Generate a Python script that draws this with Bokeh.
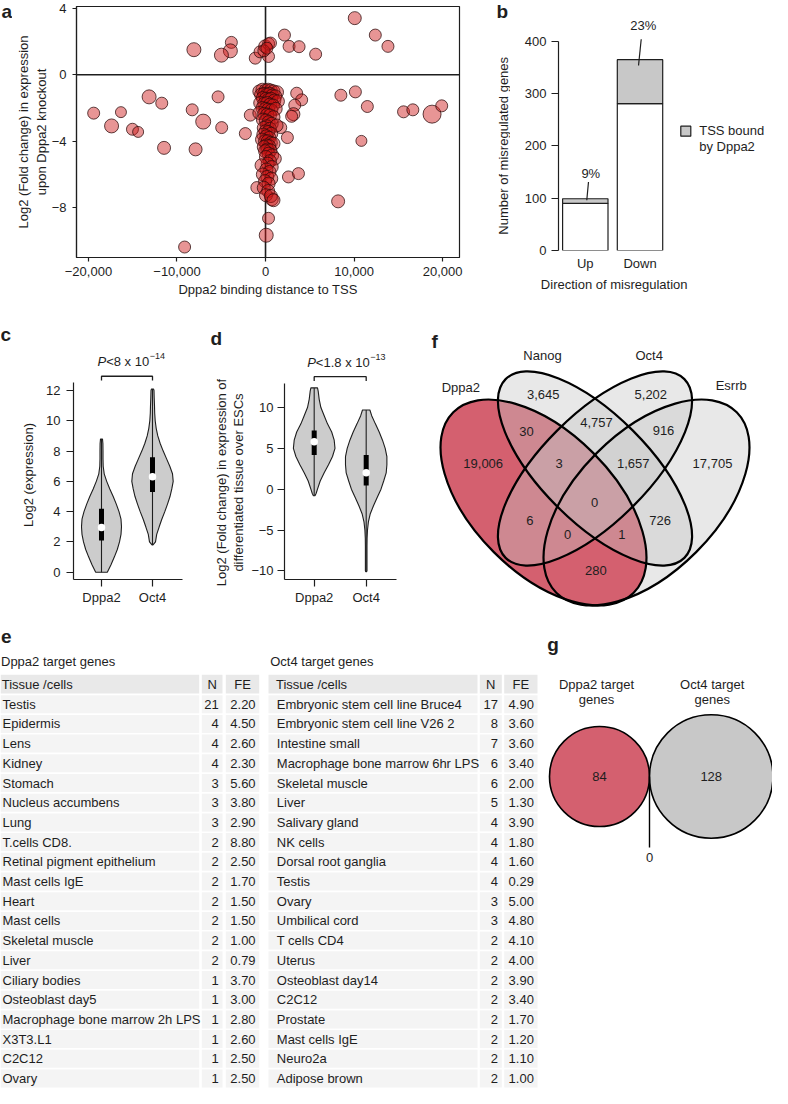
import math
from bokeh.plotting import figure
from bokeh.models import Range1d, FixedTicker, Span
from bokeh.layouts import row, column
from bokeh.embed import file_html
from bokeh.resources import INLINE
from bokeh.core.properties import value

FONT = "Liberation Sans"
INK = "#1e1e1e"
RED = "#d4606f"
GREY = "#c8c8c8"
VIOLIN = "#cccccc"

# ---------------- panel a data ----------------
a_up_dist = [10080, 12400, 13830, 2140, 2660, 3790, 5660, -8090, -3860, -3970, -4980, -1160, -620, -40, 350, 560, 340, -190, 150]
a_up_lfc = [3.41, 2.39, 1.71, 2.39, 1.71, 1.69, 1.24, 1.51, 1.95, 1.44, 1.18, 1.00, 1.38, 1.71, 1.87, 1.91, 1.10, 1.44, 1.60]
a_up_size = [13, 12, 12, 12, 12, 12, 12, 14, 12, 14, 14, 12, 12, 13, 12, 12, 12, 12, 12]

a_far_dist = [-19410, -17390, -16330, -15030, -14390, -13150, -11720, -11460, -8280, -7040, -7900, -5360, -4950, -2280, -1720, -9140,
              3520, 4080, 3300, 3150, 2950, 1720, 2470, 2590, 3720, 8510, 10150, 11500, 10830, 8200, 15590, 16640, 18810, 19900,
              80, 340, 710, -980]
a_far_lfc = [-2.31, -3.08, -2.25, -3.28, -3.44, -1.33, -1.71, -4.40, -2.11, -2.82, -4.49, -1.33, -3.18, -3.54, -2.43, -10.37,
             -1.11, -1.51, -1.83, -2.37, -2.50, -3.18, -3.78, -6.15, -5.95, -1.23, -1.03, -1.91, -3.98, -7.62, -2.23, -2.11, -2.37, -1.87,
             -9.66, -8.64, -7.49, -6.79]
a_far_size = [12, 14, 11, 12, 11, 14, 12, 13, 12, 15, 13, 12, 12, 12, 12, 12,
              12, 12, 12, 13, 12, 12, 12, 12, 12, 12, 12, 12, 11, 13, 12, 12, 18, 12,
              14, 12, 13, 12]

a_core_dist = [-700, -350, 0, 300, 600, 900, 1300, -500, -150, 150, 450, 750, 1100, -300, 50, 350, 650, 1000, 1400,
               -600, -150, 200, 500, 850, -350, 0, 300, 650, 1150, -700, -150, 200, 500, 900,
               -300, 50, 350, 700, 150, -200, 500, 1250,
               0, 300, 650, -250, 100, 450, -400, -50, 250, 600, 900, 100, 400, -200, 200, 550, -50,
               350, 750, 50, 1050, 500, 250, -450, 700, 100, 450, -300, 200, 650, -50, 350, -200, 300, 50, 600, 900]
a_core_lfc = [-1.0, -0.9, -0.95, -0.9, -0.95, -1.0, -1.05, -1.2, -1.15, -1.2, -1.15, -1.25, -1.3, -1.4, -1.45, -1.5, -1.45, -1.55, -1.6,
              -1.7, -1.75, -1.7, -1.8, -1.85, -2.0, -2.05, -2.1, -2.15, -2.05, -2.3, -2.35, -2.4, -2.45, -2.55,
              -2.7, -2.75, -2.85, -2.95, -3.1, -3.2, -3.25, -3.05,
              -3.4, -3.45, -3.55, -3.6, -3.7, -3.8, -3.9, -4.0, -4.0, -4.1, -4.15, -4.25, -4.3, -4.35, -4.5, -4.55, -4.6,
              -4.75, -4.85, -4.95, -5.05, -5.2, -5.35, -5.45, -5.55, -5.7, -5.85, -6.0, -6.15, -6.25, -6.4, -6.55, -6.8, -7.0, -7.25, -7.3, -7.55]
a_core_size = 13

a_xticks = [-20000, -10000, 0, 10000, 20000]
a_xlabels = ["\u221220,000", "\u221210,000", "0", "10,000", "20,000"]
a_yticks = [4, 0, -4, -8]
a_ylabels = ["4", "0", "\u22124", "\u22128"]

# ---------------- panel b data ----------------
direction = ["Up", "Down"]
not_bound = [90, 281]
tss_bound = [9, 84]
b_yticks = [0, 100, 200, 300, 400]

# ---------------- panel c / d data ----------------
cd_groups = ["Dppa2", "Oct4"]
c_dppa2_y = [0, 0.5, 1, 1.5, 2, 2.5, 3, 3.5, 4, 4.5, 5, 5.5, 6, 6.5, 7, 7.5, 8, 8.5, 8.8]
c_dppa2_w = [5.8, 9.5, 12.8, 15.8, 18, 19.5, 20, 19.5, 17.5, 14.8, 11.7, 8.3, 5.2, 2.7, 1.7, 1.5, 1.5, 1.4, 1.0]
c_oct4_y = [1.8, 2, 2.5, 3, 3.5, 4, 4.5, 5, 5.5, 6, 6.5, 7, 7.5, 8, 8.5, 9, 9.5, 10, 10.5, 11, 11.5, 12, 12.1]
c_oct4_w = [0.5, 3, 4.2, 6.7, 9.3, 12.3, 15, 17.5, 19.3, 20.7, 20, 17.3, 14, 10.7, 7.7, 5.3, 3.7, 2.7, 2.2, 2, 1.7, 1.5, 1.0]
c_box = [(2.1, 4.2, 2.95, 0.0, 8.8), (5.3, 7.6, 6.3, 1.8, 12.1)]   # q1, q3, median, min, max
c_pvalue = ("8 x 10", "\u221214")

d_dppa2_y = [-0.8, -0.5, 0, 1, 2, 3, 4, 5, 6, 7, 8, 9, 10, 11, 12, 12.4]
d_dppa2_w = [0.8, 2, 3.3, 6, 10, 14.3, 18.3, 20.8, 20, 17.5, 13.3, 10, 6.7, 5, 4, 3.3]
d_oct4_y = [-10.1, -10, -9, -8, -7, -6, -5, -4, -3, -2, -1, 0, 1, 2, 3, 4, 5, 6, 7, 8, 9, 9.7]
d_oct4_w = [0.5, 0.8, 0.8, 0.8, 0.8, 0.9, 1.3, 2.2, 4.1, 7.4, 11.1, 14.8, 17.5, 20, 20.7, 20.7, 19, 16.3, 13, 9.2, 5.5, 3.7]
d_box = [(4.2, 7.2, 5.8, -0.8, 12.4), (0.45, 4.2, 2.0, -10.1, 9.7)]
d_pvalue = ("1.8 x 10", "\u221213")

# ---------------- panel e data ----------------
tissue_dppa2 = ["Testis", "Epidermis", "Lens", "Kidney", "Stomach", "Nucleus accumbens", "Lung", "T.cells CD8.",
                "Retinal pigment epithelium", "Mast cells IgE", "Heart", "Mast cells", "Skeletal muscle", "Liver",
                "Ciliary bodies", "Osteoblast day5", "Macrophage bone marrow 2h LPS", "X3T3.L1", "C2C12", "Ovary"]
n_dppa2 = [21, 4, 4, 4, 3, 3, 3, 2, 2, 2, 2, 2, 2, 2, 1, 1, 1, 1, 1, 1]
fe_dppa2 = [2.20, 4.50, 2.60, 2.30, 5.60, 3.80, 2.90, 8.80, 2.50, 1.70, 1.50, 1.50, 1.00, 0.79, 3.70, 3.00, 2.80, 2.60, 2.50, 2.50]
tissue_oct4 = ["Embryonic stem cell line Bruce4", "Embryonic stem cell line V26 2", "Intestine small",
               "Macrophage bone marrow 6hr LPS", "Skeletal muscle", "Liver", "Salivary gland", "NK cells",
               "Dorsal root ganglia", "Testis", "Ovary", "Umbilical cord", "T cells CD4", "Uterus", "Osteoblast day14",
               "C2C12", "Prostate", "Mast cells IgE", "Neuro2a", "Adipose brown"]
n_oct4 = [17, 8, 7, 6, 6, 5, 4, 4, 4, 4, 3, 3, 2, 2, 2, 2, 2, 2, 2, 2]
fe_oct4 = [4.90, 3.60, 3.60, 3.40, 2.00, 1.30, 3.90, 1.80, 1.60, 0.29, 5.00, 4.80, 4.10, 4.00, 3.90, 3.40, 1.70, 1.20, 1.10, 1.00]

# ---------------- panel f data ----------------
venn_sets = ["Dppa2", "Nanog", "Oct4", "Esrrb"]
venn_counts = [19006, 3645, 5202, 17705, 30, 4757, 916, 3, 1657, 0, 6, 726, 0, 1, 280]

# ---------------- panel g data ----------------
g_sets = [("Dppa2 target", "genes"), ("Oct4 target", "genes")]
g_counts = [84, 128]
g_overlap = 0


# ================= helpers =================
def make_fig(w, h, l, r, t, b, xr, yr, axes=True):
    kw = dict(width=w, height=h, x_range=Range1d(*xr), y_range=Range1d(*yr),
              output_backend="svg", toolbar_location=None,
              min_border_left=l, min_border_right=r, min_border_top=t, min_border_bottom=b)
    if not axes:
        kw.update(x_axis_location=None, y_axis_location=None)
    p = figure(**kw)
    p.grid.visible = False
    p.outline_line_color = None
    p.background_fill_color = "white"
    p.border_fill_color = "white"
    if "frame_align" in p.properties():
        p.frame_align = False
    return p


def text_fig(w, h):
    """Blank figure whose frame is its whole canvas, in pixel units (y = 0 at top edge, negative downwards)."""
    return make_fig(w, h, 0, 0, 0, 0, (0, w), (-h, 0), axes=False)


def style_axis(ax, tick_out=5, standoff=5, title=None, title_standoff=5):
    ax.axis_line_color = INK
    ax.axis_line_width = 1.2
    ax.major_tick_line_color = INK
    ax.major_tick_line_width = 1.2
    ax.minor_tick_line_color = None
    ax.major_tick_in = 0
    ax.major_tick_out = tick_out
    ax.major_label_standoff = standoff
    ax.major_label_text_font = FONT
    ax.major_label_text_font_size = "13px"
    ax.major_label_text_color = INK
    ax.axis_label = title
    ax.axis_label_standoff = title_standoff
    ax.axis_label_text_font = FONT
    ax.axis_label_text_font_size = "13px"
    ax.axis_label_text_font_style = "normal"
    ax.axis_label_text_color = INK


def txt(p, x, y, t, size=13, align="center", baseline="middle", style="normal", color=INK, xo=0, yo=0, angle=0.0):
    p.text(x=x, y=y, text=t, text_font=value(FONT), text_font_size=f"{size}px", text_align=align,
           text_baseline=baseline, text_font_style=style, text_color=color, x_offset=xo, y_offset=yo,
           angle=angle)


def letter(p, x, y, s):
    txt(p, [x], [y], [s], size=19, style="bold", align="left", baseline="top")


ARIAL_W = {'P': 667, '<': 584, ' ': 278, 'x': 500, '.': 278, '\u2212': 584}


def tw(s, size):
    return sum(ARIAL_W.get(c, 556) for c in s) * size / 1000.0


VERT = math.pi / 2

# ================= panel a =================
fa_letter = text_fig(12, 302)
letter(fa_letter, 1, 0, "a")

pa = make_fig(458, 302, 62, 11, 6, 45, (-21350, 21910), (-11.0, 4.11))
pa.outline_line_color = INK
pa.outline_line_width = 1.2
pa.add_layout(Span(location=0, dimension="height", line_color=INK, line_width=1.6, level="underlay"))
pa.add_layout(Span(location=0, dimension="width", line_color=INK, line_width=1.6, level="underlay"))
ax_x = a_up_dist + a_far_dist + a_core_dist
ax_y = a_up_lfc + a_far_lfc + a_core_lfc
ax_s = a_up_size + a_far_size + [a_core_size] * len(a_core_dist)
pa.scatter(x=ax_x, y=ax_y, size=ax_s, marker="circle", fill_color="#cc1414", fill_alpha=0.45,
           line_color="#2b0b0b", line_alpha=0.75, line_width=1)
style_axis(pa.xaxis[0], tick_out=4, standoff=5, title="Dppa2 binding distance to TSS", title_standoff=3)
style_axis(pa.yaxis[0], tick_out=4, standoff=6,
           title="Log2 (Fold change) in expression\nupon Dppa2 knockout", title_standoff=0)
pa.xaxis.ticker = FixedTicker(ticks=a_xticks)
pa.xaxis.major_label_overrides = {t: s for t, s in zip(a_xticks, a_xlabels)}
pa.yaxis.ticker = FixedTicker(ticks=a_yticks)
pa.yaxis.major_label_overrides = {t: s for t, s in zip(a_yticks, a_ylabels)}

# ================= panel b =================
fb_left = text_fig(40, 302)
letter(fb_left, 26, 0, "b")
txt(fb_left, [32.7], [-145.3], ["Number of misregulated genes"], angle=VERT)

pb = make_fig(160, 273, 48, 0, 18, 22, (0.51, 0.51 + 112 / 54.7), (0, 443.8))
bx = [1, 2]
totals = [a + b for a, b in zip(not_bound, tss_bound)]
pb.vbar(x=bx, width=0.83, bottom=0, top=not_bound, fill_color="white", line_color=INK, line_width=1.2)
pb.vbar(x=bx, width=0.83, bottom=not_bound, top=totals, fill_color=GREY, line_color=INK, line_width=1.2)
style_axis(pb.yaxis[0], tick_out=7, standoff=5)
pb.yaxis.ticker = FixedTicker(ticks=b_yticks)
pb.yaxis.bounds = (0, 400)
style_axis(pb.xaxis[0], tick_out=0, standoff=5)
pb.xaxis.axis_line_color = None
pb.xaxis.major_tick_line_color = None
pb.xaxis.ticker = FixedTicker(ticks=bx)
pb.xaxis.major_label_overrides = {1: direction[0], 2: direction[1]}
pct = [f"{round(100 * b / t)}%" for b, t in zip(tss_bound, totals)]
pct_dx = [0.10, 0.058]
pct_lift = [48, 65]
lead_dx = [(0.027, 0.058), (-0.027, 0.022)]
lead_dy = [(-3, 32), (-11, 39)]
for i in range(2):
    txt(pb, [bx[i] + pct_dx[i]], [totals[i] + pct_lift[i]], [pct[i]])
    pb.line([bx[i] + lead_dx[i][0], bx[i] + lead_dx[i][1]],
            [totals[i] + lead_dy[i][0], totals[i] + lead_dy[i][1]], line_color=INK, line_width=1.2)

pleg = make_fig(102, 273, 0, 0, 0, 0, (678, 780), (-281, -8), axes=False)
pleg.scatter([693.3], [-138.7], marker="square", size=10, fill_color=GREY, line_color=INK, line_width=1.2)
txt(pleg, [706.7], [-138.3], ["TSS bound"], align="left")
txt(pleg, [706.7], [-154.0], ["by Dppa2"], align="left")

fb_xtitle = text_fig(262, 29)
txt(fb_xtitle, [103.7], [-10.5], ["Direction of misregulation"])


# ================= panels c, d =================
def violins(p, spacing, shapes, boxes):
    for i, ((ys, ws), box) in enumerate(zip(shapes, boxes)):
        cx = i + 1
        hw = [w / spacing for w in ws]
        xs = [cx - h for h in hw] + [cx + h for h in reversed(hw)]
        yy = list(ys) + list(reversed(ys))
        p.patch(xs, yy, fill_color=VIOLIN, line_color=INK, line_width=1.1)
        q1, q3, med, lo, hi = box
        p.segment(x0=[cx], y0=[lo], x1=[cx], y1=[hi], line_color=INK, line_width=1.1)
        p.segment(x0=[cx], y0=[q1], x1=[cx], y1=[q3], line_color="black", line_width=5)
        p.scatter([cx], [med], size=7.5, fill_color="white", line_color=None)


def pvalue(p, y_text, y_br, y_leg, mant, expo, left_off):
    p.line([1, 1, 2, 2], [y_leg, y_br, y_br, y_leg], line_color=INK, line_width=1.3)
    wP = tw("P", 13)
    wm = tw("<" + mant, 13)
    txt(p, [1], [y_text], ["P"], align="left", style="italic", xo=left_off)
    txt(p, [1], [y_text], ["<" + mant], align="left", xo=left_off + wP)
    txt(p, [1], [y_text], [expo], size=9, align="left", xo=left_off + wP + wm + 0.5, yo=-5)


def cat_axes(p, yt, ylabels, bounds, ystand):
    style_axis(p.xaxis[0], tick_out=7, standoff=3)
    style_axis(p.yaxis[0], tick_out=7, standoff=ystand)
    p.xaxis.ticker = FixedTicker(ticks=[1, 2])
    p.xaxis.major_label_overrides = {1: cd_groups[0], 2: cd_groups[1]}
    p.yaxis.ticker = FixedTicker(ticks=yt)
    p.yaxis.major_label_overrides = {t: s for t, s in zip(yt, ylabels)}
    p.yaxis.bounds = bounds


fc_left = text_fig(40, 325)
letter(fc_left, 0, -21.4, "c")
txt(fc_left, [28.3], [-172.5], ["Log2 (expression)"], angle=VERT)

pc = make_fig(160, 325, 33, 18, 45, 48, (0.451, 0.451 + 109 / 51.0), (-0.48, 14.84))
violins(pc, 51.0, [(c_dppa2_y, c_dppa2_w), (c_oct4_y, c_oct4_w)], c_box)
pvalue(pc, 13.94, 12.94, 12.66, c_pvalue[0], c_pvalue[1], -4)
c_yt = [0, 2, 4, 6, 8, 10, 12]
cat_axes(pc, c_yt, [str(t) for t in c_yt], (-0.48, 12.5), 6)

fd_left = text_fig(48, 325)
letter(fd_left, 10, -25.5, "d")
txt(fd_left, [21.4, 38.0], [-180.0, -180.0],
    ["Log2 (Fold change) in expression of", "differentiated tissue over ESCs"], angle=VERT)

pd_ = make_fig(162, 325, 36, 14, 45, 48, (0.429, 0.429 + 112 / 52.0), (-11.06, 17.35))
violins(pd_, 52.0, [(d_dppa2_y, d_dppa2_w), (d_oct4_y, d_oct4_w)], d_box)
pvalue(pd_, 15.56, 13.78, 13.26, d_pvalue[0], d_pvalue[1], -7)
d_yt = [-10, -5, 0, 5, 10]
cat_axes(pd_, d_yt, ["\u221210", "\u22125", "0", "5", "10"], (-11.06, 13.0), 4)

# ================= panel f (Venn) =================
pf = make_fig(362, 325, 0, 0, 0, 0, (418, 780), (-635, -310), axes=False)
AX = 602.5
ell = {
    "Dppa2": (551.0, 510.0, 255.2, 140.4, -1),
    "Nanog": (AX, 476.0, 252.8, 107.2, -1),
    "Oct4": (AX, 476.0, 252.8, 107.2, 1),
    "Esrrb": (2 * AX - 551.0, 510.0, 255.2, 140.4, 1),
}
fills = {"Esrrb": ("#e8e8e8", 1.0), "Dppa2": (RED, 1.0), "Nanog": ("#c5c5c5", 0.4), "Oct4": ("#c5c5c5", 0.4)}
for name in ["Esrrb", "Dppa2", "Nanog", "Oct4"]:
    cx, cy, wa, hb, s = ell[name]
    col, al = fills[name]
    pf.ellipse(x=[cx], y=[-cy], width=wa, height=hb, angle=s * math.pi / 4,
               fill_color=col, fill_alpha=al, line_color=None)
for name in venn_sets:
    cx, cy, wa, hb, s = ell[name]
    pf.ellipse(x=[cx], y=[-cy], width=wa, height=hb, angle=s * math.pi / 4,
               fill_color=None, line_color="black", line_width=2.2)
set_pos = [(468.3, 395), (550, 363.3), (656.7, 363.3), (738.7, 393.3)]
txt(pf, [q[0] for q in set_pos], [-q[1] for q in set_pos], venn_sets)
region_pos = [(490.7, 470.7), (550.7, 401.7), (658.3, 401.7), (720, 470.7), (534, 439), (604, 430),
              (671, 438.3), (566.7, 470.7), (640.7, 470.7), (602, 510), (537.3, 528.3), (667.7, 528.3),
              (575, 542.3), (629.3, 542.3), (603.3, 578.3)]
txt(pf, [q[0] for q in region_pos], [-q[1] for q in region_pos], [f"{v:,}" for v in venn_counts])
letter(pf, 439, -338.5, "f")

# ================= panel e (tables) =================
pe = make_fig(540, 461, 0, 0, 0, 0, (8, 548), (-1096, -635), axes=False)
ROW_H = 19.7
HDR_Y = 691.7
ROW0_Y = 711.7


def table(p, x_cols, tissues, ns, fes, title, title_x):
    (t0, t1), (n0, n1), (f0, f1) = x_cols
    txt(p, [title_x], [-669.3], [title], align="left")
    p.quad(left=[max(t0, 8), n0, f0], right=[t1, n1, f1], top=[-(HDR_Y - 9.35)] * 3,
           bottom=[-(HDR_Y + 9.35)] * 3, fill_color="#e9e9e9", line_color=None)
    txt(p, [t0 + 7.5], [-HDR_Y], ["Tissue /cells"], align="left")
    txt(p, [(n0 + n1) / 2, (f0 + f1) / 2], [-HDR_Y] * 2, ["N", "FE"])
    ys = [ROW0_Y + k * ROW_H for k in range(len(tissues))]
    for (a, b) in [(max(t0, 8), t1), (n0, n1), (f0, f1)]:
        p.quad(left=[a] * len(ys), right=[b] * len(ys), top=[-(y - 9.0) for y in ys],
               bottom=[-(y + 9.0) for y in ys], fill_color="#f4f4f4", line_color=None)
    txt(p, [t0 + 8.3] * len(ys), [-y for y in ys], tissues, align="left")
    txt(p, [n1 - 3.8] * len(ys), [-y for y in ys], [str(n) for n in ns], align="right")
    txt(p, [f1 - 3.6] * len(ys), [-y for y in ys], [f"{v:.2f}" for v in fes], align="right")


table(pe, [(1.7, 206.7), (209.3, 230.0), (233.3, 266.7)], tissue_dppa2, n_dppa2, fe_dppa2,
      "Dppa2 target genes", 8.5)
table(pe, [(276.0, 485.0), (487.3, 509.3), (511.7, 545.0)], tissue_oct4, n_oct4, fe_oct4,
      "Oct4 target genes", 277.7)
letter(pe, 8.5, -637.4, "e")

# ================= panel g =================
pg = make_fig(232, 461, 0, 0, 0, 0, (556, 788), (-1096, -635), axes=False)
K = 50.0 / math.sqrt(84)
r1, r2 = K * math.sqrt(g_counts[0]), K * math.sqrt(g_counts[1])
cx1 = 615.0
cx2 = cx1 + r1 + r2 - g_overlap
cyg = 784.0
pg.ellipse(x=[cx1], y=[-cyg], width=2 * r1, height=2 * r1, fill_color=RED, line_color="black", line_width=1.6)
pg.ellipse(x=[cx2], y=[-cyg], width=2 * r2, height=2 * r2, fill_color=GREY, line_color="black", line_width=1.6)
txt(pg, [cx1, cx2], [-cyg, -cyg], [str(v) for v in g_counts])
txt(pg, [cx1 - 3, cx2 + 1], [-691.7, -691.7], [g_sets[0][0], g_sets[1][0]])
txt(pg, [cx1 - 3, cx2 + 1], [-706.7, -706.7], [g_sets[0][1], g_sets[1][1]])
xt = cx1 + r1
pg.line([xt, xt], [-cyg, -855], line_color="black", line_width=1.4)
txt(pg, [xt], [-865], [str(g_overlap)])
letter(pg, 562.7, -641.4, "g")

layout = column(
    row(fa_letter, pa, fb_left, column(row(pb, pleg), fb_xtitle)),
    row(fc_left, pc, fd_left, pd_, pf),
    row(pe, pg),
)
open("out.html", "w").write(file_html(layout, INLINE))
